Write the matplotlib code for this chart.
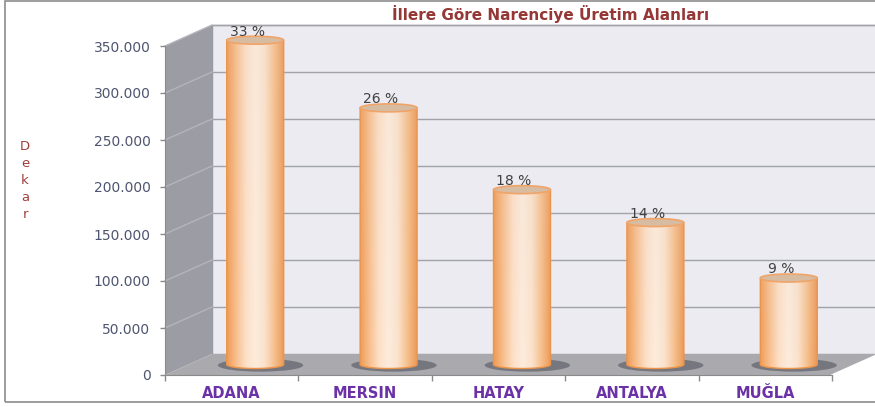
import numpy as np
import matplotlib
matplotlib.use("Agg")
from matplotlib import pyplot as plt
from matplotlib.patches import Polygon, Ellipse, Rectangle
from matplotlib.colors import LinearSegmentedColormap

# data
provinces = ["ADANA", "MERSIN", "HATAY", "ANTALYA", "MUĞLA"]
areas = [345000, 273000, 186000, 151000, 92000]
shares = ["33 %", "26 %", "18 %", "14 %", "9 %"]
yticks = [0, 50000, 100000, 150000, 200000, 250000, 300000, 350000]

title = "İllere Göre Narenciye Üretim Alanları"
ylabel = "Dekar"

# figure / geometry (front plane of the 3d box)
W, H = 875, 407
fig = plt.figure(figsize=(W / 100, H / 100), dpi=100)
ax = fig.add_axes([165 / W, (H - 375) / H, (832 - 165) / W, (375 - 46) / H])
ax.set_facecolor("none")

YMAX = 350000
DX = 47 / 133.4           # depth shift in category units
DY = 21 * YMAX / 329      # depth shift in value units
CW = 0.427                # cylinder width
EH = 8 * YMAX / 329       # ellipse height
x0, x1 = -0.5, len(provinces) - 0.5

# walls and floor
back = Polygon([(x0 + DX, DY), (x1 + DX + 0.2, DY), (x1 + DX + 0.2, YMAX + DY), (x0 + DX, YMAX + DY)],
               closed=True, fc="#ebebf1", ec="#9a9aa2", lw=1, zorder=0, clip_on=False)
ax.add_patch(back)
left = Polygon([(x0, 0), (x0 + DX, DY), (x0 + DX, YMAX + DY), (x0, YMAX)],
               closed=True, fc="#9c9ca4", ec="none", zorder=0.5, clip_on=False)
ax.add_patch(left)
floor = Polygon([(x0, 0), (x1, 0), (x1 + DX, DY), (x0 + DX, DY)],
                closed=True, fc="#a9a9ae", ec="none", zorder=0.6, clip_on=False)
ax.add_patch(floor)
ax.plot([x1, x1 + DX], [0, DY], color="white", lw=1.2, zorder=0.7, clip_on=False)

for v in yticks[1:]:
    ax.plot([x0 + DX, x1 + DX + 0.2], [v + DY, v + DY], color="#a2a2aa", lw=1, zorder=1, clip_on=False)
    ax.plot([x0, x0 + DX], [v, v + DY], color="#b4b4bc", lw=1, zorder=1, clip_on=False)

# cylinder colours
body_cmap = LinearSegmentedColormap.from_list(
    "cyl", ["#f09c56", "#f8c090", "#fde0c8", "#fdecdc", "#fbe2cc", "#f6c08e", "#ec9a58"])

grad = np.linspace(0, 1, 200)
vert = np.linspace(0, 1, 100)[:, None, None]

for i, (v, lab) in enumerate(zip(areas, shares)):
    cx = i + DX / 2
    base = DY / 2
    top = v + DY / 2

    # shadow on the floor
    ax.add_patch(Ellipse((cx + 0.04, base - 800), CW * 1.5, EH * 1.6, fc="#66666f",
                         ec="none", alpha=0.75, zorder=2, clip_on=False))

    # body outline (bottom half ellipse + straight sides)
    t = np.linspace(np.pi, 2 * np.pi, 60)
    pts = list(zip(cx + CW / 2 * np.cos(t), base + EH / 2 * np.sin(t)))
    pts += [(cx + CW / 2, top), (cx - CW / 2, top)]
    outline = Polygon(pts, closed=True, fc="none", ec="#ec944a", lw=1.0, zorder=3.5, clip_on=False)
    ax.add_patch(outline)

    rgba = body_cmap(np.tile(grad, (100, 1)))
    # a little greyer towards the top
    rgba[..., :3] = rgba[..., :3] * (1 - 0.1 * vert) + np.array([0.85, 0.8, 0.78]) * 0.1 * vert
    img = ax.imshow(rgba, extent=[cx - CW / 2, cx + CW / 2, base - EH / 2, top],
                    origin="lower", aspect="auto", zorder=3, interpolation="bilinear")
    img.set_clip_box(fig.bbox)
    img.set_clip_path(outline)

    ax.add_patch(Ellipse((cx, top), CW, EH, fc="#d8bca2", ec="#f0a468", lw=1.2, zorder=4, clip_on=False))

    ax.text(cx - 0.06, top + EH * 0.2, lab, ha="center", va="bottom",
            fontsize=10, color="#404040", zorder=5)

ax.set_xlim(x0, x1)
ax.set_ylim(0, YMAX)

# axes
for s in ["top", "right"]:
    ax.spines[s].set_visible(False)
ax.spines["left"].set_color("#8a8a8a")
ax.spines["bottom"].set_color("#8a8a8a")
ax.spines["left"].set_zorder(6)
ax.spines["bottom"].set_zorder(6)

ax.set_yticks(yticks)
ax.set_yticklabels([f"{v:,}".replace(",", ".") for v in yticks])
ax.tick_params(axis="y", length=3.5, width=1, color="#8a8a8a", pad=7,
               labelsize=10, labelcolor="#4e5570")

ax.set_xticks(range(len(provinces)))
ax.set_xticklabels(provinces, fontweight="heavy", color="#6a32a6", fontsize=10.5)
ax.set_xticks(np.arange(x0, x1 + 0.01, 1), minor=True)
ax.tick_params(axis="x", which="major", length=0, pad=8)
ax.tick_params(axis="x", which="minor", length=4, width=1, color="#8a8a8a")

# title and stacked y label
fig.text(551 / W, 1 - 14 / H, title, ha="center", va="center",
         fontsize=11, fontweight="bold", color="#953735")
fig.text(25 / W, 1 - 181 / H, "\n".join(ylabel), ha="center", va="center",
         fontsize=9.5, color="#a0403c", linespacing=1.4)

# outer frame
fig.patches.append(Rectangle((5 / W, 5 / H), 1.2, 1 - 6 / H, transform=fig.transFigure,
                             fill=False, ec="#8c8c8c", lw=1.2))

fig.savefig("out.png", dpi=100)
